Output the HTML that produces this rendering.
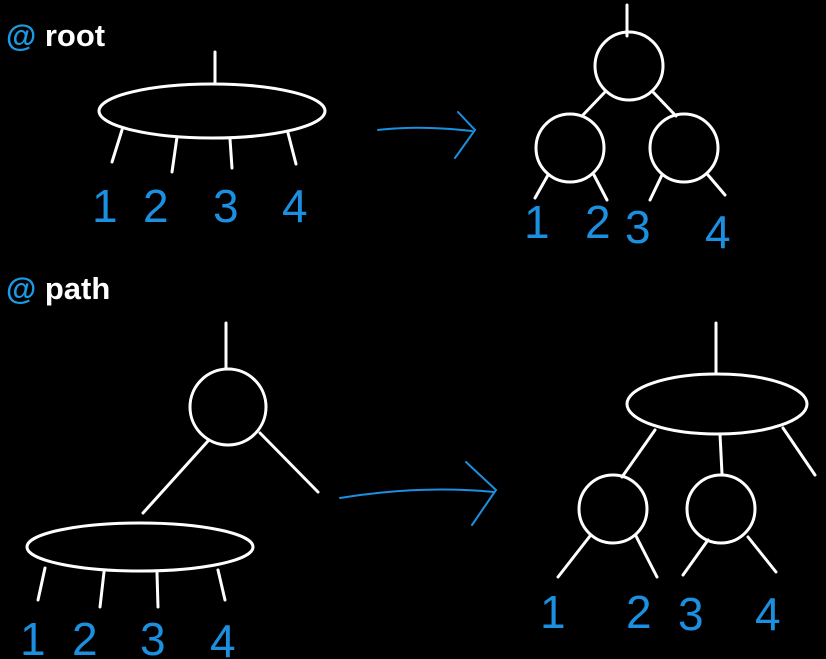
<!DOCTYPE html>
<html><head><meta charset="utf-8"><style>
html,body{margin:0;padding:0;background:#000;width:826px;height:659px;overflow:hidden}
svg{display:block}
.h{font-family:"Liberation Sans",sans-serif;font-weight:bold;font-size:31px}
.n{font-family:"Liberation Sans",sans-serif;font-size:46px;fill:#1b8fe0}
</style></head><body>
<svg width="826" height="659" viewBox="0 0 826 659">
<g stroke="#fff" stroke-width="3" fill="none" stroke-linecap="round">
<line x1="215" y1="52" x2="215" y2="84"/>
<ellipse cx="212" cy="111" rx="113" ry="27"/>
<line x1="122" y1="130" x2="112" y2="162"/>
<line x1="177" y1="137" x2="172" y2="172"/>
<line x1="230" y1="139" x2="232" y2="168"/>
<line x1="288" y1="133" x2="296" y2="164"/>
<line x1="627" y1="5" x2="627" y2="36"/>
<circle cx="629" cy="66" r="34"/>
<line x1="605" y1="92" x2="582" y2="116"/>
<line x1="653" y1="92" x2="676" y2="116"/>
<circle cx="570" cy="148" r="34"/>
<circle cx="684" cy="148" r="34"/>
<line x1="548" y1="175" x2="535" y2="198"/>
<line x1="594" y1="175" x2="607" y2="200"/>
<line x1="662" y1="175" x2="650" y2="200"/>
<line x1="708" y1="175" x2="725" y2="195"/>
<line x1="226" y1="323" x2="226" y2="369"/>
<circle cx="228" cy="407" r="38"/>
<line x1="208" y1="441" x2="143" y2="513"/>
<line x1="260" y1="433" x2="318" y2="492"/>
<ellipse cx="140" cy="547" rx="113" ry="24"/>
<line x1="45" y1="568" x2="38" y2="600"/>
<line x1="104" y1="572" x2="100" y2="607"/>
<line x1="157" y1="573" x2="158" y2="607"/>
<line x1="218" y1="570" x2="225" y2="600"/>
<line x1="716" y1="323" x2="716" y2="374"/>
<ellipse cx="717" cy="404" rx="90" ry="30"/>
<line x1="655" y1="430" x2="622" y2="477"/>
<line x1="720" y1="434" x2="722" y2="474"/>
<line x1="783" y1="428" x2="815" y2="475"/>
<circle cx="613" cy="509" r="34"/>
<circle cx="721" cy="509" r="34"/>
<line x1="590" y1="536" x2="558" y2="577"/>
<line x1="636" y1="536" x2="657" y2="577"/>
<line x1="708" y1="540" x2="683" y2="575"/>
<line x1="748" y1="537" x2="776" y2="572"/>
</g>
<g stroke="#1b8fe0" stroke-width="2" fill="none" stroke-linecap="round">
<path d="M378 130 Q420 125 472 131"/>
<path d="M458 112 L475 130 L455 158"/>
<path d="M340 498 Q420 485 494 492"/>
<path d="M466 462 L496 490 L472 525"/>
</g>
<text class="h" x="6" y="46"><tspan fill="#1b9be6">@</tspan><tspan fill="#fff"> root</tspan></text>
<text class="h" x="6" y="299"><tspan fill="#1b9be6">@</tspan><tspan fill="#fff"> path</tspan></text>
<g class="n">
<text x="92" y="222">1</text><text x="143" y="222">2</text><text x="213" y="222">3</text><text x="282" y="222">4</text>
<text x="524" y="238">1</text><text x="585" y="238">2</text><text x="625" y="243">3</text><text x="705" y="248">4</text>
<text x="20" y="655">1</text><text x="72" y="655">2</text><text x="140" y="655">3</text><text x="210" y="657">4</text>
<text x="540" y="628">1</text><text x="626" y="628">2</text><text x="678" y="630">3</text><text x="755" y="630">4</text>
</g>
</svg>
</body></html>
